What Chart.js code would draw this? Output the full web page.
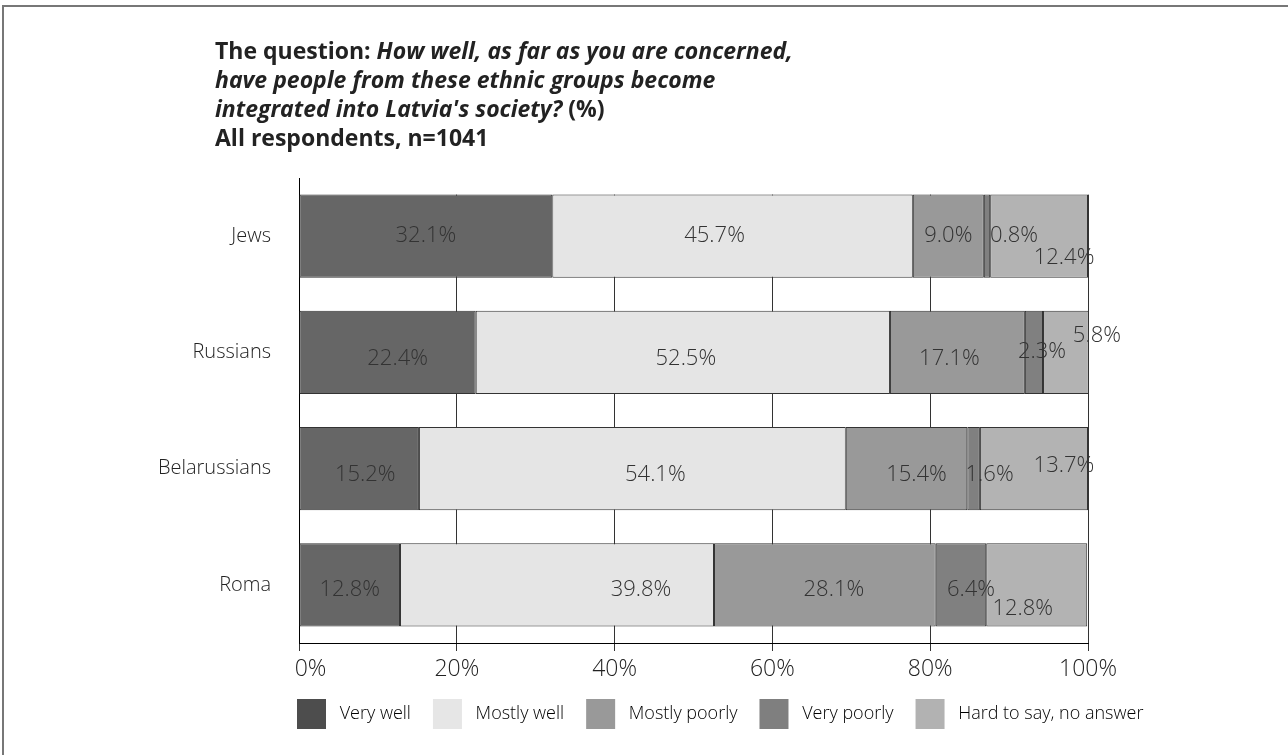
<!DOCTYPE html>
<html>
<head>
<meta charset="utf-8">
<script src="https://cdn.jsdelivr.net/npm/chart.js@4"></script>
<style>
    html, body { margin: 0; padding: 0; background: #fff; }
    #wrap { position: relative; width: 1288px; height: 755px; overflow: hidden; }
    #frame { position: absolute; left: 2px; top: 5px; right: -5px; bottom: -5px;
             border-top: 2px solid #777; border-left: 2px solid #777; }
    #title { position: absolute; left: 215px; top: 36px; font-family: 'Open Sans', sans-serif;
             font-size: 23px; line-height: 29px; font-weight: 700; color: #222; }
    canvas { position: absolute; left: 0; top: 0; }
</style>
</head>
<body>
<div id="wrap">
    <div id="frame"></div>
    <canvas id="chart" width="1288" height="755"></canvas>
    <div id="title">The question: <i>How well, as far as you are concerned,<br>have people from these ethnic groups become<br>integrated into Latvia's society?</i> (%)<br>All respondents, n=1041</div>
</div>
<script>
// ==========================================
// DATOS
// ==========================================
const groups = ['Jews', 'Russians', 'Belarussians', 'Roma'];
const seriesNames = ['Very well', 'Mostly well', 'Mostly poorly', 'Very poorly', 'Hard to say, no answer'];
const veryWell = [32.1, 22.4, 15.2, 12.8];
const mostlyWell = [45.7, 52.5, 54.1, 39.8];
const mostlyPoorly = [9.0, 17.1, 15.4, 28.1];
const veryPoorly = [0.8, 2.3, 1.6, 6.4];
const hardToSay = [12.4, 5.8, 13.7, 12.8];
const xTicks = [0, 20, 40, 60, 80, 100];

const barColors = ['#666666', '#e5e5e5', '#999999', '#808080', '#b3b3b3'];
const legendColors = ['#4d4d4d', '#e6e6e6', '#999999', '#7f7f7f', '#b2b2b2'];

// desplazamiento de etiquetas [dx, dy] como en el original
const labelNudge = [
    [[0, 0], [10, 6], [6, 6], [0, 5]],
    [[-18, 0], [3, 6], [23, 6], [84, 5]],
    [[0, 0], [-8, 6], [10, 6], [9, 5]],
    [[27, 0], [8, -1], [16, 6], [10, 5]],
    [[25, 22], [31, -17], [30, -3], [-14, 24]]
];

// ==========================================
// PLUGINS
// ==========================================
const valueLabels = {
    id: 'valueLabels',
    afterDatasetsDraw(chart) {
        const ctx = chart.ctx;
        ctx.save();
        ctx.font = "300 22px 'Open Sans'";
        ctx.fillStyle = '#333';
        ctx.textAlign = 'center';
        ctx.textBaseline = 'middle';
        chart.data.datasets.forEach((ds, i) => {
            chart.getDatasetMeta(i).data.forEach((bar, j) => {
                const [dx, dy] = labelNudge[i][j];
                ctx.fillText(ds.data[j].toFixed(1) + '%', (bar.x + bar.base) / 2 + dx, bar.y + dy);
            });
        });
        ctx.restore();
    }
};

// sin rejilla encima de la primera barra
const topMask = {
    id: 'topMask',
    beforeDatasetsDraw(chart) {
        const a = chart.chartArea;
        const first = chart.getDatasetMeta(0).data[0];
        if (!first) return;
        const ctx = chart.ctx;
        ctx.save();
        ctx.fillStyle = '#fff';
        ctx.fillRect(a.left + 1, a.top, a.right - a.left + 2, first.y - first.height / 2 - a.top);
        ctx.restore();
    }
};

// leyenda alineada con el área del gráfico
const legendPlace = {
    id: 'legendPlace',
    afterLayout(chart) {
        const lg = chart.legend;
        const pad = lg.options.labels.padding;
        const dy = (chart.chartArea.bottom + 56 - pad) - lg.top;
        lg.top += dy;
        lg.bottom += dy;
        lg.left = chart.chartArea.left - pad - 2;
        lg.right = chart.width;
    }
};

// ==========================================
// GRÁFICO
// ==========================================
const allSeries = [veryWell, mostlyWell, mostlyPoorly, veryPoorly, hardToSay];

Chart.defaults.font.family = "'Open Sans', sans-serif";
Chart.defaults.color = '#222';

new Chart(document.getElementById('chart').getContext('2d'), {
    type: 'bar',
    data: {
        labels: groups,
        datasets: allSeries.map((d, i) => ({
            label: seriesNames[i],
            data: d,
            backgroundColor: barColors[i],
            borderColor: '#333',
            borderWidth: 1,
            borderSkipped: false,
            barPercentage: 0.714,
            categoryPercentage: 1
        }))
    },
    options: {
        indexAxis: 'y',
        responsive: false,
        animation: false,
        layout: { padding: { left: 120, right: 200, top: 178, bottom: 10 } },
        plugins: {
            tooltip: { enabled: false },
            legend: {
                position: 'bottom',
                align: 'start',
                labels: {
                    boxWidth: 29,
                    boxHeight: 30,
                    padding: 22,
                    color: '#222',
                    font: { size: 18, weight: '300' },
                    generateLabels: (chart) => chart.data.datasets.map((ds, i) => ({
                        text: ' ' + ds.label,
                        fillStyle: legendColors[i],
                        strokeStyle: legendColors[i],
                        lineWidth: 0,
                        datasetIndex: i
                    }))
                }
            }
        },
        scales: {
            x: {
                stacked: true,
                min: 0,
                max: 100,
                afterBuildTicks: (s) => { s.ticks = xTicks.map(v => ({ value: v })); },
                afterFit: (s) => { s.height = 40; },
                ticks: {
                    // el 0% va pegado al eje, como en el original
                    callback: (v) => (v === 0 ? '\u2002\u2002' : '') + v + '%',
                    font: { size: 23, weight: '300' },
                    color: '#222',
                    padding: 5,
                    maxRotation: 0
                },
                grid: { color: '#333', lineWidth: 1, tickLength: 8 },
                border: { color: '#000', width: 1 }
            },
            y: {
                stacked: true,
                afterFit: (s) => { s.width = 179; },
                ticks: { font: { size: 20, weight: '300' }, color: '#222', padding: 28 },
                grid: { display: false, drawTicks: false },
                border: { color: '#000', width: 1 }
            }
        }
    },
    plugins: [topMask, valueLabels, legendPlace]
});
</script>
</body>
</html>
